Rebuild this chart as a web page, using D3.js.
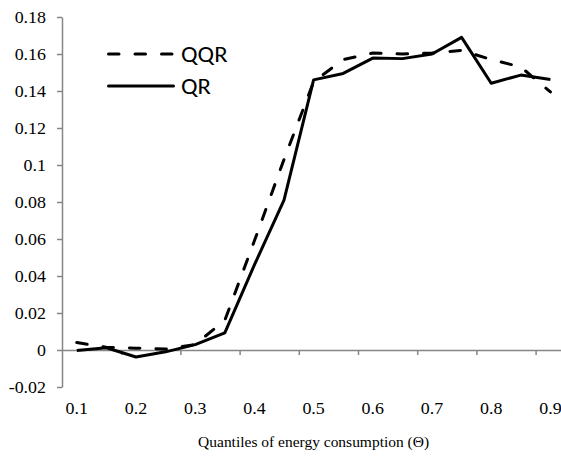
<!DOCTYPE html>
<html>
<head>
<meta charset="utf-8">
<script src="https://cdn.jsdelivr.net/npm/d3@7"></script>
<style>
  html, body { margin: 0; padding: 0; background: #fff; }
  svg { display: block; }
</style>
</head>
<body>
<svg id="chart" width="561" height="457"></svg>
<script>
// ---- data ----
const quantiles = ["0.1","0.15","0.2","0.25","0.3","0.35","0.4","0.45","0.5","0.55","0.6","0.65","0.7","0.75","0.8","0.85","0.9"];
const qqr = [0.004, 0.0015, 0.001, 0.0005, 0.003, 0.016, 0.059, 0.103, 0.145, 0.157, 0.1605, 0.160, 0.1605, 0.162, 0.157, 0.153, 0.1395];
const qr  = [-0.0003, 0.0012, -0.0038, -0.001, 0.0029, 0.0093, 0.046, 0.081, 0.146, 0.1495, 0.1578, 0.1575, 0.160, 0.169, 0.1442, 0.1486, 0.1462];
const yTickValues = [-0.02, 0, 0.02, 0.04, 0.06, 0.08, 0.1, 0.12, 0.14, 0.16, 0.18];
const yTickLabels = ["-0.02","0","0.02","0.04","0.06","0.08","0.1","0.12","0.14","0.16","0.18"];
const xLabelCats = ["0.1","0.2","0.3","0.4","0.5","0.6","0.7","0.8","0.9"];
const seriesNames = ["QQR", "QR"];
const xTitle = "Quantiles of energy consumption (\u0398)";

(function () {
// ---- layout ----
const mLeft = 62, mTop = 17, mBottom = 387, plotRight = 62 + 17 * 29.6;
const svg = d3.select("#chart");
const axisColor = "#868686";
const serif = "'Liberation Serif', 'Times New Roman', serif";
const stretch = 1.12; // reference text is slightly widened

function widen(sel) {
  sel.each(function () {
    const w = this.getComputedTextLength();
    d3.select(this).attr("textLength", w * stretch).attr("lengthAdjust", "spacingAndGlyphs");
  });
}

const x = d3.scaleBand().domain(quantiles).range([mLeft, plotRight]).padding(0);
const xb = d3.scaleLinear().domain([0, quantiles.length]).range([mLeft, plotRight]);
const y = d3.scaleLinear().domain([-0.02, 0.18]).range([mBottom, mTop]);
const cx = c => x(c) + x.bandwidth() / 2;

// y axis
const yAxis = svg.append("g")
  .attr("transform", `translate(${mLeft},0)`)
  .call(d3.axisLeft(y).tickValues(yTickValues)
        .tickFormat((d, i) => yTickLabels[i]).tickSize(5).tickSizeOuter(0).tickPadding(11));
yAxis.select(".domain").attr("stroke", axisColor).attr("stroke-width", 1.5);
yAxis.selectAll(".tick line").attr("stroke", axisColor).attr("stroke-width", 1.5);
yAxis.selectAll("text").style("font-family", serif).style("font-size", "16px").attr("fill", "#000").call(widen);

// x axis tick marks at category boundaries (every 2 categories)
const y0 = y(0);
const xTicks = svg.append("g")
  .attr("transform", `translate(0,${y0})`)
  .call(d3.axisBottom(xb).tickValues(d3.range(2, quantiles.length, 2)).tickFormat("")
        .tickSize(5).tickSizeOuter(0));
xTicks.select(".domain").attr("stroke", axisColor).attr("stroke-width", 1.5);
xTicks.selectAll(".tick line").attr("stroke", axisColor).attr("stroke-width", 1.5);

// x labels (at category centers)
const xLab = svg.append("g")
  .attr("transform", `translate(0,${mBottom})`)
  .call(d3.axisBottom(x).tickValues(xLabelCats).tickSize(0).tickPadding(16));
xLab.select(".domain").remove();
xLab.selectAll("text").style("font-family", serif).style("font-size", "16px").attr("fill", "#000").call(widen);

// axis title
svg.append("text")
  .attr("x", (mLeft + plotRight) / 2).attr("y", 447)
  .attr("text-anchor", "middle")
  .style("font-family", serif).style("font-size", "15px").attr("fill", "#000")
  .text(xTitle)
  .attr("textLength", 231).attr("lengthAdjust", "spacingAndGlyphs");

// lines
const line = d3.line().x((d, i) => cx(quantiles[i])).y(d => y(d));
svg.append("path").datum(qqr)
  .attr("fill", "none").attr("stroke", "#000").attr("stroke-width", 3)
  .attr("stroke-dasharray", "10.5,16").attr("stroke-linecap", "round")
  .attr("stroke-linejoin", "round").attr("d", line);
svg.append("path").datum(qr)
  .attr("fill", "none").attr("stroke", "#000").attr("stroke-width", 3)
  .attr("stroke-linejoin", "round").attr("d", line);

// legend
const legend = svg.append("g");
const legY = [54, 86];
legend.selectAll("line").data(seriesNames).join("line")
  .attr("x1", 108.5).attr("x2", 173.5)
  .attr("y1", (d, i) => legY[i]).attr("y2", (d, i) => legY[i])
  .attr("stroke", "#000").attr("stroke-width", 3)
  .attr("stroke-linecap", "round")
  .attr("stroke-dasharray", (d, i) => i === 0 ? "10.5,16" : null);
legend.selectAll("text").data(seriesNames).join("text")
  .attr("x", 181).attr("y", (d, i) => legY[i])
  .attr("dy", "0.35em")
  .style("font-family", "Carlito, Lato, 'Open Sans', sans-serif")
  .style("font-size", "22px").attr("fill", "#000")
  .text(d => d)
  .call(widen);
})();
</script>
</body>
</html>
